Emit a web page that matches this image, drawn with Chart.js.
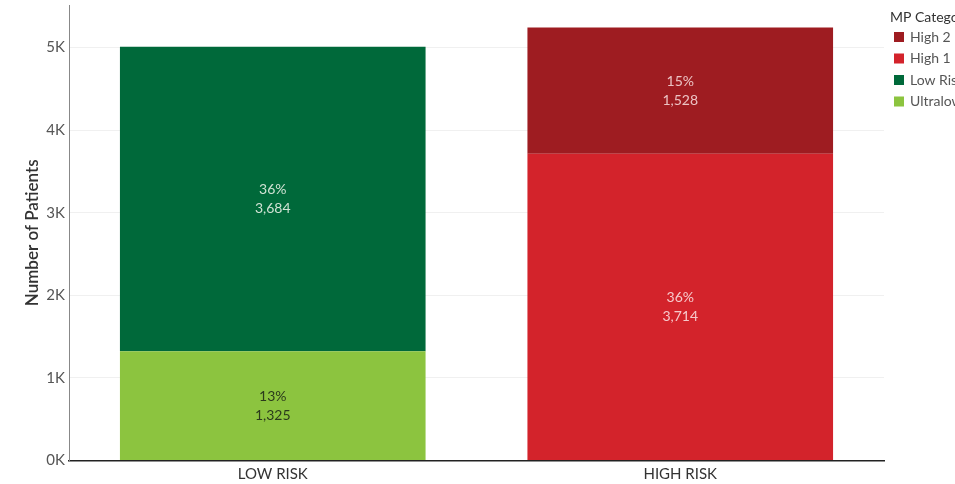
<!DOCTYPE html>
<html>
<head>
<meta charset="utf-8">
<script src="https://cdn.jsdelivr.net/npm/chart.js@4"></script>
<style>
  html, body { margin: 0; padding: 0; background: #fff; overflow: hidden; }
  #wrap { width: 955px; height: 484px; position: relative; }
</style>
</head>
<body>
<div id="wrap"><canvas id="chart"></canvas></div>
<script>
// données
const categories = ["LOW RISK", "HIGH RISK"];
const ultralowValues = [1325, null];
const lowRiskValues = [3684, null];
const high1Values = [null, 3714];
const high2Values = [null, 1528];
const yTicks = [0, 1000, 2000, 3000, 4000, 5000];
const yMax = 5515;

const legendTitle = "MP Category";
const legendLabels = ["High 2", "High 1", "Low Risk", "Ultralow"];
const legendColors = ["#9e1c21", "#d3232b", "#00693a", "#8cc43f"];

const FONT = "Lato, 'Open Sans', sans-serif";

// total pour les pourcentages
const allValues = [...ultralowValues, ...lowRiskValues, ...high1Values, ...high2Values];
const total = allValues.reduce((s, v) => s + (v || 0), 0);

const labelPlugin = {
    id: "segmentLabels",
    afterDatasetsDraw(chart) {
        const ctx = chart.ctx;
        ctx.save();
        ctx.font = "14px " + FONT;
        ctx.textAlign = "center";
        ctx.textBaseline = "middle";
        chart.data.datasets.forEach((ds, i) => {
            const meta = chart.getDatasetMeta(i);
            meta.data.forEach((bar, j) => {
                const v = ds.data[j];
                if (v == null) return;
                const cy = (bar.y + bar.base) / 2;
                ctx.fillStyle = ds.labelColor;
                ctx.fillText(Math.round(v / total * 100) + "%", bar.x, cy - 9);
                ctx.fillText(v.toLocaleString("en-US"), bar.x, cy + 10);
            });
        });
        ctx.restore();
    }
};

const legendPlugin = {
    id: "sideLegend",
    afterDraw(chart) {
        const ctx = chart.ctx;
        const x0 = chart.chartArea.right + 6;
        ctx.save();
        ctx.textBaseline = "middle";
        ctx.textAlign = "left";
        ctx.font = "14px " + FONT;
        ctx.fillStyle = "#333";
        ctx.fillText(legendTitle, x0, 17);
        legendLabels.forEach((lab, i) => {
            const y = 37 + i * 21.5;
            ctx.fillStyle = legendColors[i];
            ctx.fillRect(x0 + 4, y - 5, 10, 10);
            ctx.fillStyle = "#555";
            ctx.fillText(lab, x0 + 20, y);
        });
        ctx.restore();
    }
};

const ctx = document.getElementById("chart").getContext("2d");
new Chart(ctx, {
    type: "bar",
    data: {
        labels: categories,
        datasets: [
            { label: "Ultralow", data: ultralowValues, backgroundColor: legendColors[3], labelColor: "#2b3a1c" },
            { label: "Low Risk", data: lowRiskValues, backgroundColor: legendColors[2], labelColor: "#cfe2d3" },
            { label: "High 1", data: high1Values, backgroundColor: legendColors[1], labelColor: "#f6c9cb" },
            { label: "High 2", data: high2Values, backgroundColor: legendColors[0], labelColor: "#ecc3c4" },
        ],
    },
    options: {
        responsive: true,
        maintainAspectRatio: false,
        animation: false,
        layout: { padding: { top: 5, right: 71, left: 0, bottom: 0 } },
        plugins: {
            legend: { display: false },
            tooltip: { enabled: false },
        },
        datasets: { bar: { categoryPercentage: 0.75, barPercentage: 1 } },
        scales: {
            x: {
                stacked: true,
                grid: { display: false, drawTicks: false },
                border: { display: true, color: "#222", width: 1.5 },
                ticks: { color: "#333", font: { family: FONT, size: 15 }, padding: 5 },
                afterFit(scale) {
                    scale.height = 23.4;
                    scale.paddingLeft = 0;
                    scale.paddingRight = 0;
                },
            },
            y: {
                stacked: true,
                min: 0,
                max: yMax,
                grid: { color: "#f0f0f0", drawTicks: false },
                border: { display: true, color: "#888", width: 1 },
                ticks: {
                    color: "#555",
                    padding: 4,
                    font: { family: FONT, size: 15 },
                    callback: (v) => (v / 1000) + "K",
                },
                afterBuildTicks(scale) {
                    scale.ticks = yTicks.map((v) => ({ value: v }));
                },
                title: {
                    display: true,
                    text: "Number of Patients",
                    color: "#333",
                    font: { family: FONT, size: 17, weight: "600" },
                    padding: { top: 22, bottom: 0 },
                },
                afterFit(scale) {
                    scale.width = 69;
                    scale.paddingTop = 0;
                    scale.paddingBottom = 0;
                },
            },
        },
    },
    plugins: [labelPlugin, legendPlugin],
});
</script>
</body>
</html>
